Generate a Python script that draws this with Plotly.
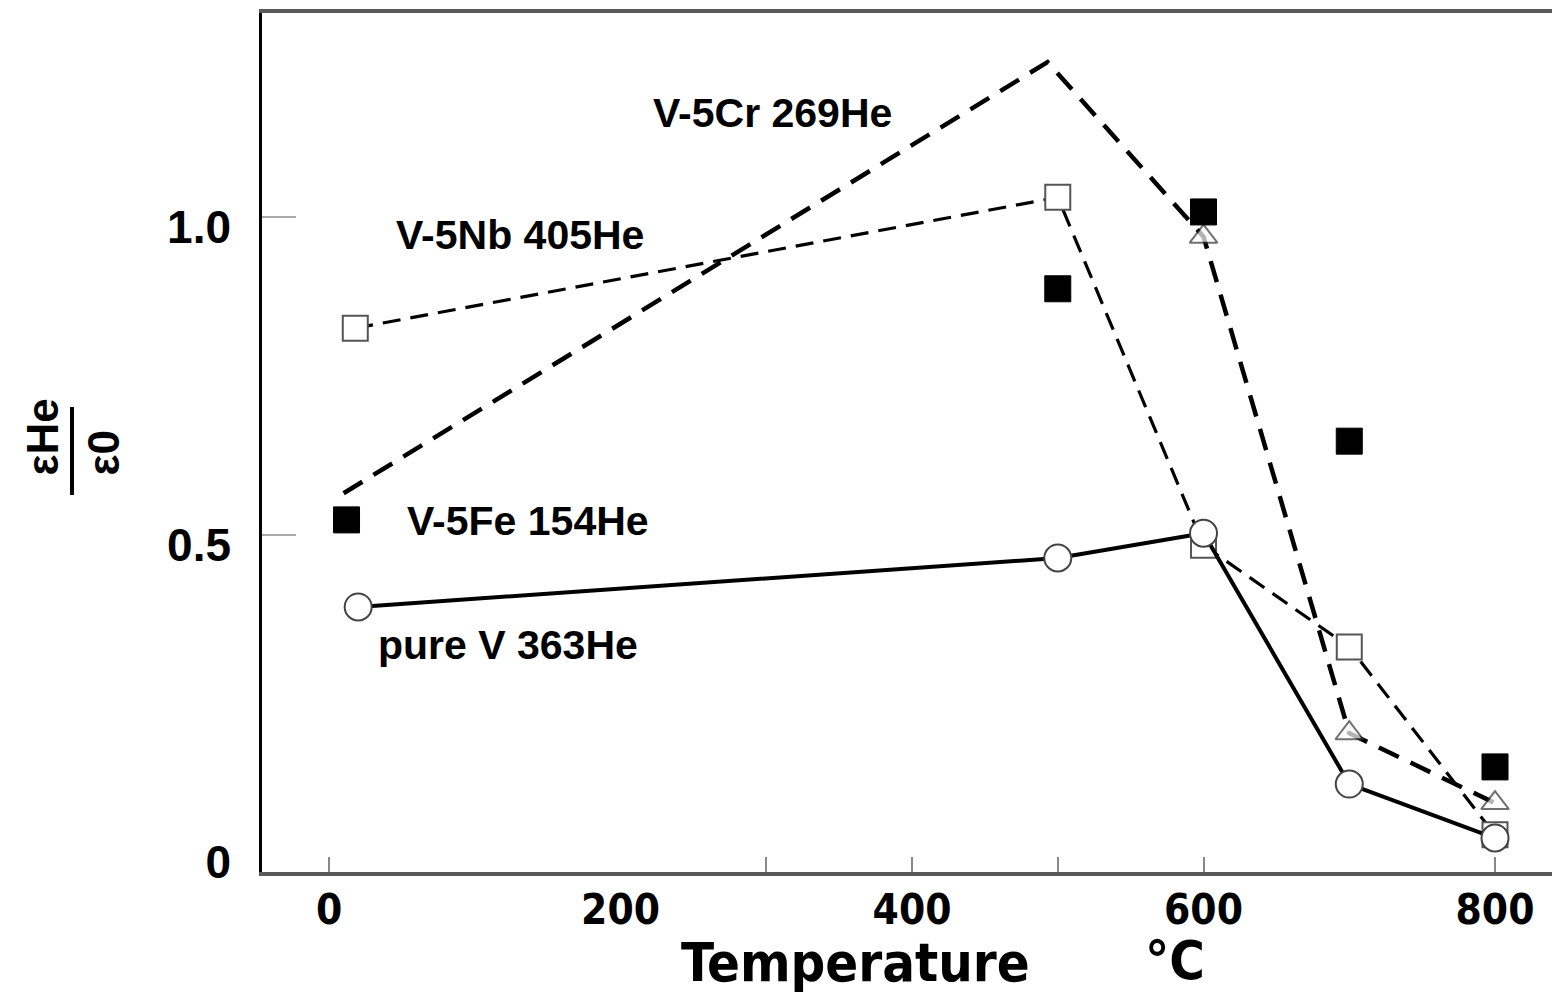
import plotly.graph_objects as go

# ---------------- data ----------------
temps_pure = [20, 500, 600, 700, 800]
pure_v = [0.386, 0.463, 0.502, 0.107, 0.022]

temps_nb = [18, 500, 600, 700, 800]
v5nb = [0.825, 1.031, 0.483, 0.323, 0.027]

temps_cr = [10, 493, 600, 700, 800]
v5cr = [0.565, 1.244, 0.969, 0.187, 0.077]
cr_marker_sizes = [0, 0, 24, 24, 24]

temps_fe = [12, 500, 600, 700, 800]
v5fe = [0.523, 0.887, 1.008, 0.647, 0.134]

series_labels = ["V-5Cr 269He", "V-5Nb 405He", "V-5Fe 154He", "pure V 363He"]

x_tick_marks = [0, 300, 400, 500, 600, 800]
x_tick_labels = [0, 200, 400, 600, 800]
y_tick_marks = [0.5, 1.0]
y_tick_vals = [0, 0.5, 1.0]
y_tick_text = ["0", "0.5", "1.0"]

# ---------------- layout geometry ----------------
W, H = 1552, 995
L, R, T, B = 262, 1552, 13, 872
x_range = [-46.0, 839.1]
y_range = [-0.0315, 1.3213]
y_label_range = [y_range[0] + 0.0157, y_range[1] + 0.0157]


def px(xp):
    return (xp - L) / (R - L)


def py(yp):
    return (B - yp) / (B - T)


BOLD = "Liberation Sans, Arial, sans-serif"
NARROW = "Liberation Sans Narrow, Arial Narrow, DejaVu Sans Condensed, sans-serif"

fig = go.Figure()

# V-5Cr: heavy dashed line, open triangles
fig.add_trace(go.Scatter(
    x=temps_cr, y=v5cr, mode="lines+markers", name=series_labels[0],
    line=dict(color="black", width=4.5, dash="22px,13px"),
    marker=dict(symbol="triangle-up", size=cr_marker_sizes, color="white",
                line=dict(color="#333", width=2)),
))
# V-5Nb: thinner dashed line, open squares
fig.add_trace(go.Scatter(
    x=temps_nb, y=v5nb, mode="lines+markers", name=series_labels[1],
    line=dict(color="black", width=3.2, dash="18px,10px"),
    marker=dict(symbol="square", size=25, color="white",
                line=dict(color="#555", width=2)),
))
# pure V: solid line, open circles
fig.add_trace(go.Scatter(
    x=temps_pure, y=pure_v, mode="lines+markers", name=series_labels[3],
    line=dict(color="black", width=4),
    marker=dict(symbol="circle", size=27, color="white",
                line=dict(color="#444", width=2)),
))
# V-5Fe: filled squares only
fig.add_trace(go.Scatter(
    x=temps_fe, y=v5fe, mode="markers", name=series_labels[2],
    marker=dict(symbol="square", size=26, color="black",
                line=dict(color="black", width=1)),
))
# invisible trace that carries the label axes
fig.add_trace(go.Scatter(
    x=[x_tick_labels[0]], y=[y_tick_vals[0]], xaxis="x2", yaxis="y2",
    mode="markers", marker=dict(opacity=0), hoverinfo="skip", showlegend=False,
))

fig.update_layout(
    width=W, height=H,
    margin=dict(l=L, r=W - R, t=T, b=H - B, pad=0),
    paper_bgcolor="white", plot_bgcolor="white",
    showlegend=False,
    xaxis=dict(
        range=x_range, showgrid=False, zeroline=False,
        showline=True, linecolor="#5a5a5a", linewidth=4, mirror=True,
        tickmode="array", tickvals=x_tick_marks, ticks="inside",
        ticklen=15, tickwidth=2, tickcolor="#888", showticklabels=False,
    ),
    yaxis=dict(
        range=y_range, showgrid=False, zeroline=False,
        showline=True, linecolor="black", linewidth=3,
        tickmode="array", tickvals=y_tick_marks, ticks="inside",
        ticklen=34, tickwidth=2, tickcolor="#aaa", showticklabels=False,
    ),
    xaxis2=dict(
        overlaying="x", anchor="y2", side="bottom", range=x_range,
        showgrid=False, zeroline=False, showline=False, ticks="",
        tickmode="array", tickvals=x_tick_labels,
        ticktext=[str(v) for v in x_tick_labels],
        tickfont=dict(family=NARROW, size=42, color="black", weight="bold"),
        ticklabelstandoff=9,
    ),
    yaxis2=dict(
        overlaying="y", anchor="x2", side="left", range=y_label_range,
        showgrid=False, zeroline=False, showline=False, ticks="",
        tickmode="array", tickvals=y_tick_vals, ticktext=y_tick_text,
        tickfont=dict(family=BOLD, size=46, color="black", weight="bold"),
        ticklabelstandoff=30,
    ),
)

annotations = []
label_pos = [(772, 113), (520, 235), (528, 521), (508, 645)]
for text, (ax_, ay_) in zip(series_labels, label_pos):
    annotations.append(dict(
        text=text, x=px(ax_), y=py(ay_), xref="paper", yref="paper",
        xanchor="center", yanchor="middle", showarrow=False,
        font=dict(family=BOLD, size=41, color="black", weight="bold"),
    ))
# x axis title
annotations.append(dict(
    text="Temperature", x=px(855), y=py(963), xref="paper", yref="paper",
    xanchor="center", yanchor="middle", showarrow=False,
    font=dict(family=NARROW, size=54, color="black", weight="bold"),
))
annotations.append(dict(
    text="°C", x=px(1175), y=py(961), xref="paper", yref="paper",
    xanchor="center", yanchor="middle", showarrow=False,
    font=dict(family=NARROW, size=54, color="black", weight="bold"),
))
# y axis title as a rotated fraction
annotations.append(dict(
    text="εHe", x=px(42), y=py(478), xref="paper", yref="paper",
    xanchor="center", yanchor="bottom", textangle=-90, showarrow=False,
    font=dict(family=BOLD, size=44, color="black", weight="bold"),
))
annotations.append(dict(
    text="ε0", x=px(103), y=py(478), xref="paper", yref="paper",
    xanchor="center", yanchor="bottom", textangle=-90, showarrow=False,
    font=dict(family=BOLD, size=44, color="black", weight="bold"),
))
fig.update_layout(annotations=annotations)

fig.add_shape(type="line", xref="paper", yref="paper",
              x0=px(72), x1=px(72), y0=py(407), y1=py(495),
              line=dict(color="black", width=4))

fig.write_html("out.html", include_plotlyjs=True,
               config={"displayModeBar": False},
               post_script="document.body.style.margin='0';")
